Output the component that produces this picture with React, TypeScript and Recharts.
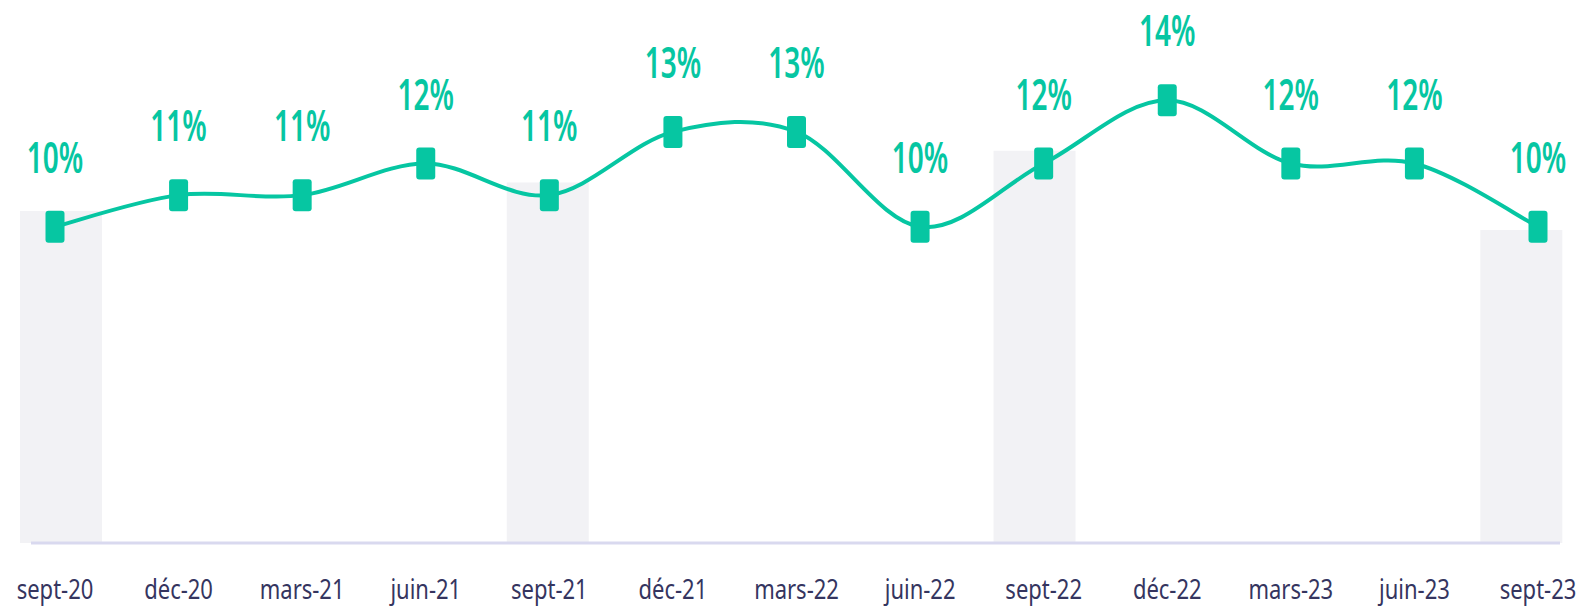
import React from 'react';
import { ComposedChart, Line, Bar, XAxis, YAxis, LabelList } from 'recharts';

const months = [
  'sept-20', 'déc-20', 'mars-21', 'juin-21', 'sept-21', 'déc-21', 'mars-22',
  'juin-22', 'sept-22', 'déc-22', 'mars-23', 'juin-23', 'sept-23',
];
const rates = [10, 11, 11, 12, 11, 13, 13, 10, 12, 14, 12, 12, 10];
// background columns only on the september points
const septBars = [10.5, null, null, null, 11.4, null, null, null, 12.4, null, null, null, 9.9];

const data = months.map((month, i) => ({ month, rate: rates[i], sept: septBars[i] }));

const GREEN = '#06c6a2';

// catmull-rom style smoothing, like the spreadsheet "smoothed line"
const smoothCurve = (context: any) => {
  let pts: number[][] = [];
  return {
    areaStart() {},
    areaEnd() {},
    lineStart() {
      pts = [];
    },
    point(x: number, y: number) {
      pts.push([+x, +y]);
    },
    lineEnd() {
      if (!pts.length) return;
      context.moveTo(pts[0][0], pts[0][1]);
      for (let i = 0; i < pts.length - 1; i++) {
        const p0 = pts[i - 1] || pts[i];
        const p1 = pts[i];
        const p2 = pts[i + 1];
        const p3 = pts[i + 2] || p2;
        context.bezierCurveTo(
          p1[0] + (p2[0] - p0[0]) / 6,
          p1[1] + (p2[1] - p0[1]) / 6,
          p2[0] - (p3[0] - p1[0]) / 6,
          p2[1] - (p3[1] - p1[1]) / 6,
          p2[0],
          p2[1]
        );
      }
    },
  };
};

const AxisTick = (props: any) => {
  const { x, y, payload } = props;
  return (
    <g transform={`translate(${x},${y})`}>
      <text textAnchor="middle" y={44} transform="scale(1,1.27)" fontSize={22} fill="#35355f" fontFamily="Noto Sans">
        {payload.value}
      </text>
    </g>
  );
};

const PctLabel = (props: any) => {
  const vb = props.viewBox || {};
  const x = props.x ?? vb.x;
  const y = props.y ?? vb.y;
  return (
    <text
      transform={`translate(${x},${y - 54}) scale(1,1.55)`}
      textAnchor="middle"
      fontSize={28}
      fontWeight={600}
      fill={GREEN}
      fontFamily="Noto Sans"
    >
      {props.value}%
    </text>
  );
};

const SquareDot = (props: any) => {
  const { cx, cy, index } = props;
  return <rect key={index} x={cx - 9.5} y={cy - 16} width={19} height={32} rx={3} fill={GREEN} />;
};

export default function App() {
  return (
    <div style={{ position: 'absolute', left: 0, top: 0, background: '#fff' }}>
      <ComposedChart width={1591} height={606} data={data} margin={{ top: 37, right: 31, bottom: 33, left: 31 }}>
        <XAxis xAxisId="band" dataKey="month" hide height={0} padding={{ left: -31, right: -22 }} />
        <XAxis
          xAxisId="pt"
          dataKey="month"
          scale="point"
          height={30}
          padding={{ left: 24, right: 22 }}
          axisLine={{ stroke: '#d9d9ef', strokeWidth: 3 }}
          tickLine={false}
          tickSize={0}
          tickMargin={0}
          tick={<AxisTick />}
          interval={0}
        />
        <YAxis hide domain={[0, 16]} />
        <Bar xAxisId="band" dataKey="sept" fill="#f2f2f5" barSize={82} isAnimationActive={false} />
        <Line
          xAxisId="pt"
          dataKey="rate"
          type={smoothCurve as any}
          stroke={GREEN}
          strokeWidth={4}
          dot={SquareDot}
          activeDot={false}
          isAnimationActive={false}
        >
          <LabelList dataKey="rate" content={<PctLabel />} />
        </Line>
      </ComposedChart>
    </div>
  );
}
